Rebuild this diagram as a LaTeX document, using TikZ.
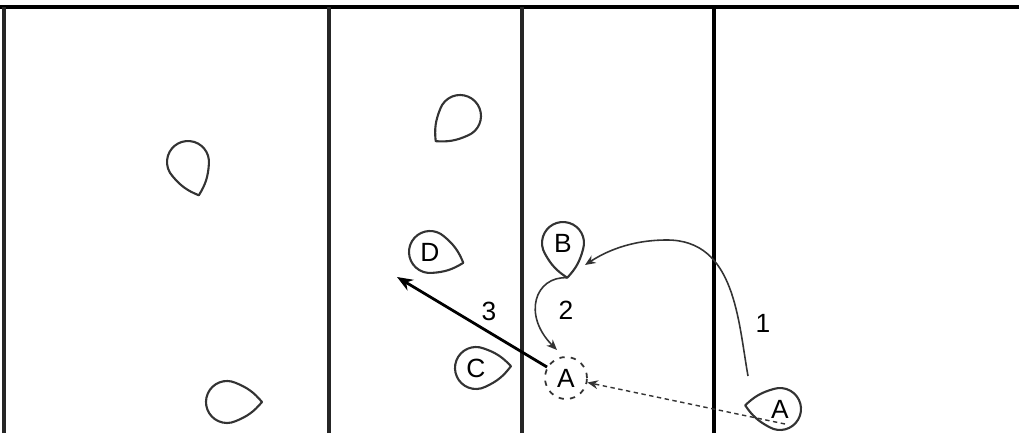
\documentclass[tikz,border=0pt]{standalone}
\usepackage{fontspec}
\setmainfont{Liberation Sans}
\usetikzlibrary{calc,arrows.meta}

\tikzset{
  wall/.style={line width=1.9pt, black!85},
  dropnode/.style={circle, minimum size=0.84cm, inner sep=0pt, font=\fontsize{15}{17}\selectfont},
  move/.style={line width=0.9pt, black!80, -{Stealth[length=6pt,width=5pt]}},
  jump/.style={line width=1.6pt, black, -{Stealth[length=9pt,width=7pt]}},
  lbl/.style={font=\fontsize{15}{17}\selectfont},
}

% tear drop: name, centre, tip angle, text
\newcommand{\tear}[4]{%
  \draw[black!80, line width=1.2pt, line join=round]
    ($(#2)+(#3+66:0.42)$)
    arc[start angle=#3+66, end angle=#3+294, radius=0.42]
    to[bend right=14] ($(#2)+(#3:0.7)$)
    to[bend right=14] ($(#2)+(#3+66:0.42)$);
  \node[dropnode] (#1) at (#2) {#4};}

\begin{document}
\begin{tikzpicture}[x=1cm,y=1cm]
    \useasboundingbox (0,0) rectangle (20.38,8.66);
    % Frame and lane walls
    \draw[wall, black] (0,8.52) -- (20.38,8.52);
    \draw[wall] (0.08,0) -- (0.08,8.52);
    \draw[wall] (6.58,0) -- (6.58,8.52);
    \draw[wall] (10.44,0) -- (10.44,8.52);
    \draw[wall, black] (14.28,0) -- (14.28,8.52);
    % Drops
    \tear{blobA}{3.76,5.42}{-72}{}
    \tear{blobB}{9.20,6.34}{226}{}
    \tear{blobC}{4.54,0.62}{0}{}
    \tear{D}{8.60,3.62}{-18}{D}
    \tear{C}{9.52,1.30}{3}{C}
    \tear{B}{11.26,3.80}{-83}{B}
    \tear{A}{15.60,0.48}{174}{A}
    % Old position of A
    \node[dropnode, draw, black!80, line width=1pt, dash pattern=on 3pt off 3.5pt,
          text=black] (Aold) at (11.32,1.10) {A};
    % Free ends
    \coordinate (a1) at (14.96,1.14);
    \coordinate (a2) at (15.70,0.18);
    \coordinate (b1) at (11.70,3.36);
    \coordinate (btip) at ($(B)+(-83:0.7)$);
    \coordinate (c1) at (11.14,1.66);
    \coordinate (d1) at (7.94,3.12);
    % Moves
    \draw[move] (a1) .. controls (14.76,2.26) and (14.70,3.86) .. (13.34,3.86)
                     .. controls (12.60,3.86) and (12.10,3.62) .. (b1);
    \draw[move] (btip) .. controls (10.70,3.14) and (10.44,2.36) .. (c1);
    \draw[jump] (Aold.150) -- (d1);
    \draw[move, line width=0.8pt, dash pattern=on 2.5pt off 2pt] (a2) -- (Aold);
    % Step numbers
    \node[lbl] (n1) at (15.26,2.20) {1};
    \node[lbl] (n2) at (11.32,2.46) {2};
    \node[lbl] (n3) at (9.78,2.44) {3};
\end{tikzpicture}
\end{document}
